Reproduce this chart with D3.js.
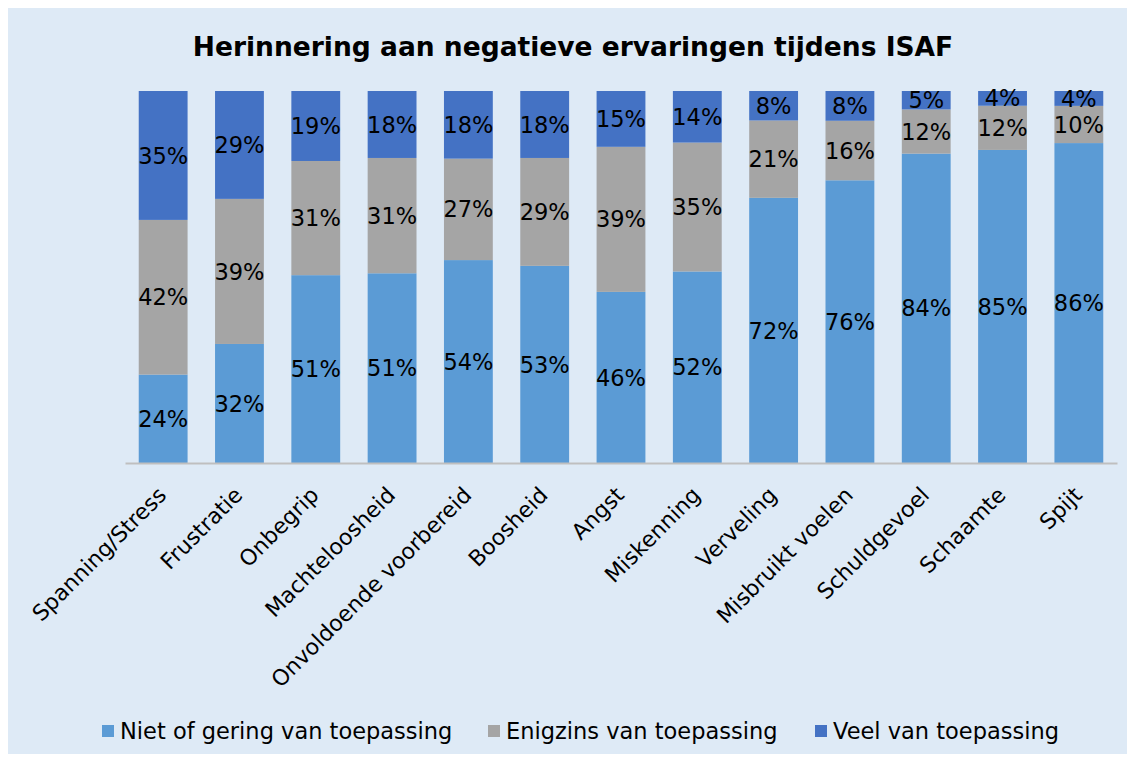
<!DOCTYPE html>
<html>
<head>
<meta charset="utf-8">
<script src="https://cdn.jsdelivr.net/npm/d3@7"></script>
<style>
  body{margin:0;background:#fff;}
  svg{display:block;font-family:"DejaVu Sans",Verdana,sans-serif;}
</style>
</head>
<body>
<div id="chart"></div>
<script>
const categories=["Spanning/Stress","Frustratie","Onbegrip","Machteloosheid","Onvoldoende voorbereid","Boosheid","Angst","Miskenning","Verveling","Misbruikt voelen","Schuldgevoel","Schaamte","Spijt"];
const seriesNames=["Niet of gering van toepassing","Enigzins van toepassing","Veel van toepassing"];
const niet=[24,32,51,51,54,53,46,52,72,76,84,85,86];
const enigzins=[42,39,31,31,27,29,39,35,21,16,12,12,10];
const veel=[35,29,19,18,18,18,15,14,8,8,5,4,4];
const colors=["#5b9bd5","#a5a5a5","#4472c4"];

(function(){
  const W=1135,H=760;
  const svg=d3.select("#chart").append("svg").attr("width",W).attr("height",H);
  svg.append("rect").attr("x",8).attr("y",8).attr("width",W-16).attr("height",H-14).attr("fill","#deeaf6");

  svg.append("text").attr("x",573).attr("y",56).attr("text-anchor","middle")
    .attr("font-size",26.5).attr("font-weight","bold").attr("fill","#000")
    .text("Herinnering aan negatieve ervaringen tijdens ISAF");

  const keys=["niet","enigzins","veel"];
  const rows=categories.map((c,i)=>({cat:c,niet:niet[i],enigzins:enigzins[i],veel:veel[i]}));
  const stack=d3.stack().keys(keys).offset(d3.stackOffsetExpand)(rows);

  const x=d3.scaleBand().domain(categories).range([125,1117]).paddingInner(0.36).paddingOuter(0.18);
  const y=d3.scaleLinear().domain([0,1]).range([463,91]);

  const layers=svg.append("g").selectAll("g").data(stack).join("g").attr("fill",(d,i)=>colors[i]);
  layers.selectAll("rect").data(d=>d).join("rect")
    .attr("x",d=>x(d.data.cat)).attr("width",x.bandwidth())
    .attr("y",d=>y(d[1])).attr("height",d=>y(d[0])-y(d[1]));

  layers.selectAll("text").data((d,i)=>d.map(v=>({v,key:keys[i]}))).join("text")
    .attr("x",d=>x(d.v.data.cat)+x.bandwidth()/2)
    .attr("y",d=>(y(d.v[0])+y(d.v[1]))/2)
    .attr("dy","0.36em").attr("text-anchor","middle").attr("font-size",22.5).attr("fill","#000")
    .text(d=>d.v.data[d.key]+"%");

  const axis=svg.append("g").attr("transform","translate(0,463)")
    .call(d3.axisBottom(x).tickSize(0).tickPadding(0));
  axis.select(".domain").attr("stroke","#bfbfbf").attr("stroke-width",2);
  axis.selectAll("text").attr("font-size",22).attr("fill","#000").attr("font-family","DejaVu Sans, Verdana, sans-serif")
    .attr("text-anchor","end").attr("dy","0.35em")
    .attr("transform","translate(-1,28) rotate(-45)");

  const legend=svg.append("g").attr("transform","translate(0,731)");
  const lx=[102,488,815];
  seriesNames.forEach((n,i)=>{
    legend.append("rect").attr("x",lx[i]).attr("y",-6).attr("width",12).attr("height",12).attr("fill",colors[i]);
    legend.append("text").attr("x",lx[i]+18).attr("y",0).attr("dy","0.36em")
      .attr("font-size",22.5).attr("fill","#000").text(n);
  });
})();
</script>
</body>
</html>
